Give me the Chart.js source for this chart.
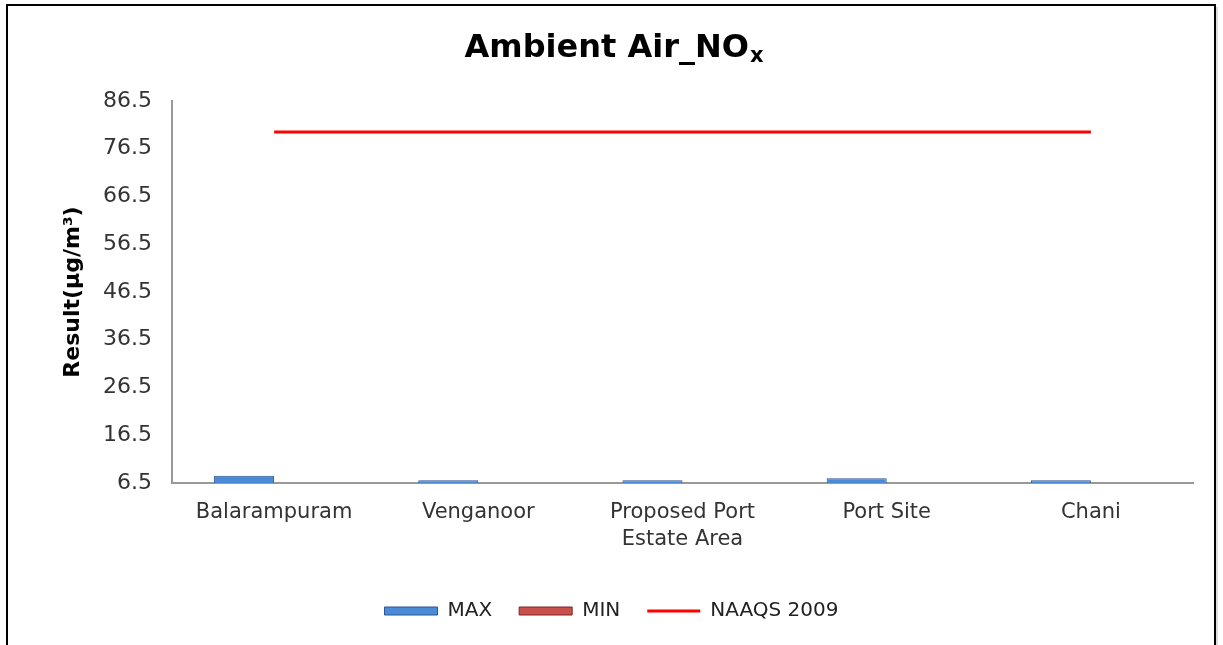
<!DOCTYPE html>
<html>
<head>
<meta charset="utf-8">
<script src="https://cdn.jsdelivr.net/npm/chart.js@4.4.1/dist/chart.umd.min.js"></script>
<style>
html,body{margin:0;padding:0;background:#fff;}
#wrap{position:absolute;left:0;top:0;width:1223px;height:645px;}
</style>
</head>
<body>
<div id="wrap"><canvas id="c" width="1223" height="645"></canvas></div>
<script>
const categories = ["Balarampuram", "Venganoor", ["Proposed Port", "Estate Area"], "Port Site", "Chani"];
const maxValues = [8.0, 7.1, 7.1, 7.5, 7.1];
const minValues = [5.2, 5.0, 5.1, 5.3, 5.0];
const naaqsValues = [80, 80, 80, 80, 80];
const yTicks = [6.5, 16.5, 26.5, 36.5, 46.5, 56.5, 66.5, 76.5, 86.5];
const chartTitle = "Ambient Air_NO";
const chartTitleSub = "x";
const yAxisTitle = "Result(µg/m³)";

const FONT = "'DejaVu Sans', Verdana, sans-serif";

const framePlugin = {
  id: 'frame',
  afterDraw(chart) {
    const ctx = chart.ctx;
    ctx.save();
    ctx.strokeStyle = '#000';
    ctx.lineWidth = 2;
    ctx.beginPath();
    ctx.moveTo(7, 645);
    ctx.lineTo(7, 5);
    ctx.lineTo(1215, 5);
    ctx.lineTo(1215, 645);
    ctx.stroke();
    ctx.strokeStyle = '#bbb';
    ctx.lineWidth = 1;
    ctx.beginPath();
    ctx.moveTo(1217, 7);
    ctx.lineTo(1217, 645);
    ctx.stroke();
    // title with subscript
    ctx.fillStyle = '#000';
    ctx.font = "bold 32px " + FONT;
    ctx.textBaseline = 'alphabetic';
    const w1 = ctx.measureText(chartTitle).width;
    ctx.font = "bold 21px " + FONT;
    const w2 = ctx.measureText(chartTitleSub).width;
    const cx = chart.width / 2 + 2;
    const x0 = cx - (w1 + w2) / 2;
    ctx.font = "bold 32px " + FONT;
    ctx.textAlign = 'left';
    ctx.fillText(chartTitle, x0, 57);
    ctx.font = "bold 21px " + FONT;
    ctx.fillText(chartTitleSub, x0 + w1 + 1, 62);
    ctx.restore();
  }
};

new Chart(document.getElementById('c'), {
  data: {
    labels: categories,
    datasets: [
      {
        type: 'bar',
        label: 'MAX',
        data: maxValues,
        backgroundColor: '#4a8ad6',
        borderColor: '#2b5790',
        borderWidth: 1,
        pointStyle: 'rect',
        categoryPercentage: 0.588,
        barPercentage: 1.0,
        order: 2
      },
      {
        type: 'bar',
        label: 'MIN',
        data: minValues,
        backgroundColor: '#c9504c',
        borderColor: '#7a2624',
        borderWidth: 1,
        pointStyle: 'rect',
        categoryPercentage: 0.588,
        barPercentage: 1.0,
        order: 2
      },
      {
        type: 'line',
        label: 'NAAQS 2009',
        data: naaqsValues,
        borderColor: '#ff0000',
        backgroundColor: '#ff0000',
        borderWidth: 3,
        pointRadius: 0,
        pointHoverRadius: 0,
        pointStyle: 'line',
        fill: false,
        order: 1
      }
    ]
  },
  options: {
    responsive: false,
    animation: false,
    events: [],
    layout: { padding: { left: 30, right: 30, top: 101, bottom: 14 } },
    plugins: {
      title: { display: false },
      tooltip: { enabled: false },
      legend: {
        display: true,
        position: 'bottom',
        labels: {
          usePointStyle: true,
          pointStyleWidth: 53,
          boxHeight: 8,
          padding: 27,
          color: '#222',
          font: { family: FONT, size: 20 },
          sort: (a, b) => a.datasetIndex - b.datasetIndex
        }
      }
    },
    scales: {
      x: {
        type: 'category',
        offset: true,
        grid: { display: false, drawTicks: false },
        border: { display: true, color: '#999', width: 2 },
        ticks: {
          color: '#333',
          font: { family: FONT, size: 21, lineHeight: 1.3 },
          padding: 16,
          maxRotation: 0,
          autoSkip: false
        },
        afterFit(scale) { scale.height = 91; }
      },
      y: {
        type: 'linear',
        min: 6.5,
        max: 86.5,
        afterBuildTicks(scale) { scale.ticks = yTicks.map(v => ({ value: v })); },
        grid: { display: false, drawTicks: false },
        border: { display: true, color: '#999', width: 2 },
        ticks: {
          color: '#333',
          font: { family: FONT, size: 22 },
          padding: 20,
          callback: (v) => Number(v).toFixed(1)
        },
        title: {
          display: true,
          text: yAxisTitle,
          color: '#000',
          font: { family: FONT, size: 22, weight: 'bold' },
          padding: { top: 30, bottom: 0 }
        },
        afterFit(scale) { scale.width = 142; }
      }
    }
  },
  plugins: [framePlugin]
});
</script>
</body>
</html>
